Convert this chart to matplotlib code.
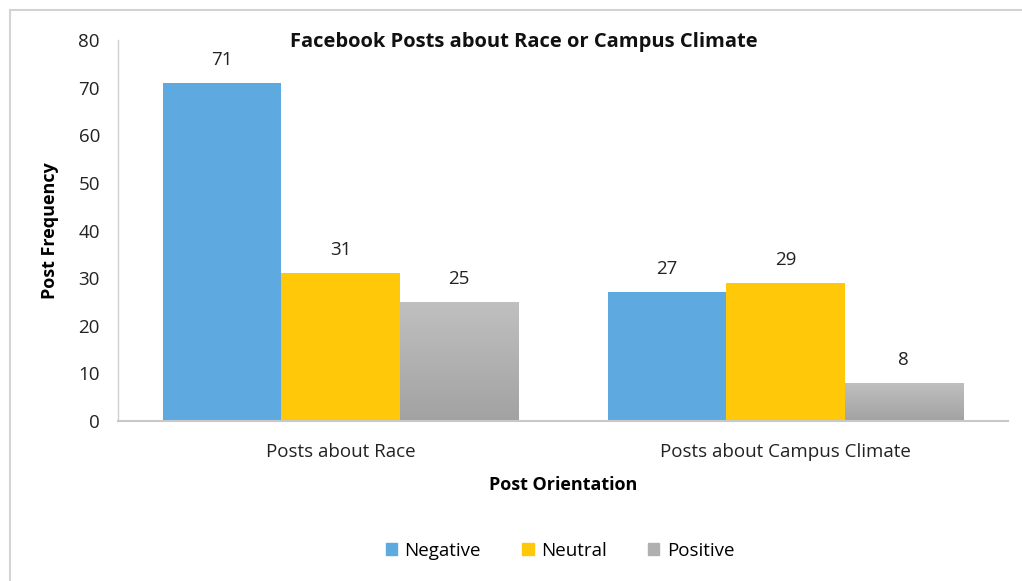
import matplotlib
matplotlib.use("Agg")
import matplotlib.pyplot as plt
import numpy as np
from matplotlib.patches import Rectangle
from matplotlib.colors import LinearSegmentedColormap

categories = ["Posts about Race", "Posts about Campus Climate"]
series_names = ["Negative", "Neutral", "Positive"]
negative = [71, 27]
neutral = [31, 29]
positive = [25, 8]
yticks = [0, 10, 20, 30, 40, 50, 60, 70, 80]

colors = ["#5DA9E0", "#FFC90A", "#B0B0B0"]
plt.rcParams['font.family'] = ['Open Sans', 'DejaVu Sans']

W, H = 1022, 581
fig = plt.figure(figsize=(W / 100, H / 100), dpi=100)
ax = fig.add_axes([118 / W, (H - 421) / H, 890 / W, 381 / H])

# outer frame
fig.patches.append(Rectangle((10 / W, -0.05), 1.2, (H - 10) / H + 0.05, transform=fig.transFigure,
                             fill=False, edgecolor="#D3D3D3", linewidth=1.5))

x = np.arange(len(categories))
bw = 0.266
data = [negative, neutral, positive]
grad = np.linspace(0, 1, 256).reshape(-1, 1)
gcmap = LinearSegmentedColormap.from_list("g", ["#A2A2A2", "#C0C0C0"])
for i, (vals, c) in enumerate(zip(data, colors)):
    pos = x + (i - 1) * bw
    bars = ax.bar(pos, vals, width=bw, color=c, label=series_names[i], zorder=2)
    if i == 2:
        for b in bars:
            b.set_facecolor("none")
            x0, y0 = b.get_x(), b.get_y()
            im = ax.imshow(grad, cmap=gcmap, aspect="auto", origin="lower",
                           extent=[x0, x0 + b.get_width(), y0, y0 + b.get_height()], zorder=2)
            im.set_clip_path(b)
    for p, v in zip(pos, vals):
        ax.text(p, v + 3.0, str(v), ha="center", va="bottom", fontsize=13.5, color="#222222")

ax.set_xlim(-0.5, 1.5)
ax.set_ylim(0, 80)
ax.set_yticks(yticks)
ax.set_xticks(x)
ax.set_xticklabels(categories, fontsize=13.5)
ax.tick_params(axis="both", length=0, labelsize=13.5, colors="#222222")
ax.tick_params(axis="y", pad=13)
ax.tick_params(axis="x", pad=16)
for s in ["top", "right"]:
    ax.spines[s].set_visible(False)
ax.spines["left"].set_color("#D0D0D0")
ax.spines["bottom"].set_color("#C8C8C8")
ax.spines["left"].set_linewidth(1.0)
ax.spines["bottom"].set_linewidth(1.5)

ax.set_ylabel("Post Frequency", fontsize=13, fontweight="bold", labelpad=14)
ax.set_xlabel("Post Orientation", fontsize=13, fontweight="bold", labelpad=11)
fig.text(524 / W, (H - 42) / H, "Facebook Posts about Race or Campus Climate",
         ha="center", va="center", fontsize=14.5, fontweight="bold", color="#111111")

handles = [Rectangle((0, 0), 1, 1, color=c) for c in colors]
fig.legend(handles, series_names, loc="center", bbox_to_anchor=(560 / W, (H - 551) / H),
           ncol=3, frameon=False, fontsize=13.5, handlelength=0.6, handleheight=0.6,
           columnspacing=2.2, handletextpad=0.4)

fig.savefig("out.png", dpi=100)
